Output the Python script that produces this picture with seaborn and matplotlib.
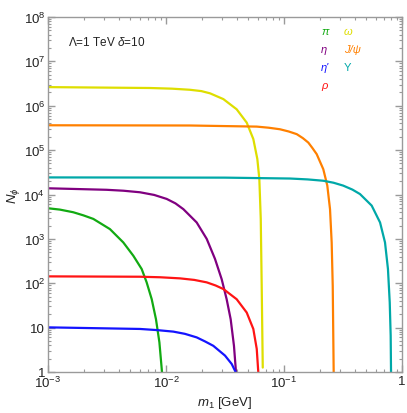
import numpy as np
import pandas as pd
import matplotlib
matplotlib.use("Agg")
import matplotlib.pyplot as plt
import seaborn as sns
from matplotlib.ticker import LogLocator, FixedLocator, NullFormatter

# ---- data (log10 m1 [GeV], log10 N_phi) ----
pi_logm = [-3.0, -2.9, -2.786, -2.7, -2.616, -2.475, -2.362, -2.277, -2.206, -2.164, -2.121, -2.085, -2.056, -2.034]
pi_logN = [3.69, 3.66, 3.60, 3.53, 3.45, 3.22, 2.92, 2.62, 2.32, 2.02, 1.64, 1.19, 0.67, 0.0]

eta_logm = [-3.0, -2.503, -2.36, -2.22, -2.1, -1.994, -1.92, -1.853, -1.74, -1.655, -1.585, -1.528, -1.486, -1.452, -1.424, -1.407]
eta_logN = [4.14, 4.106, 4.085, 4.05, 3.99, 3.90, 3.80, 3.67, 3.37, 3.0, 2.55, 2.09, 1.64, 1.19, 0.59, 0.0]

etap_logm = [-3.0, -2.22, -2.08, -1.938, -1.84, -1.74, -1.67, -1.599, -1.5, -1.443, -1.41]
etap_logN = [1.006, 0.97, 0.945, 0.91, 0.86, 0.78, 0.69, 0.59, 0.37, 0.18, 0.0]

rho_logm = [-3.0, -2.22, -2.05, -1.881, -1.76, -1.655, -1.58, -1.514, -1.401, -1.316, -1.26, -1.231, -1.218]
rho_logN = [2.155, 2.147, 2.135, 2.11, 2.075, 2.02, 1.95, 1.87, 1.64, 1.34, 0.97, 0.52, 0.0]

omega_logm = [-3.0, -2.136, -1.95, -1.797, -1.70, -1.627, -1.514, -1.401, -1.316, -1.26, -1.226, -1.209, -1.197, -1.189, -1.18]
omega_logN = [6.42, 6.40, 6.385, 6.36, 6.33, 6.28, 6.15, 5.92, 5.62, 5.25, 4.80, 4.35, 3.45, 1.94, 0.1]

jpsi_logm = [-3.0, -1.797, -1.231, -1.13, -1.034, -0.96, -0.892, -0.84, -0.794, -0.76, -0.723, -0.667, -0.633, -0.61, -0.596, -0.587, -0.579]
jpsi_logN = [5.56, 5.555, 5.53, 5.505, 5.47, 5.42, 5.36, 5.27, 5.17, 5.05, 4.91, 4.57, 4.20, 3.67, 2.92, 1.94, 0.0]

ups_logm = [-3.0, -1.5, -0.949, -0.8, -0.667, -0.58, -0.498, -0.42, -0.356, -0.257, -0.186, -0.144, -0.119, -0.104, -0.096, -0.093]
ups_logN = [4.385, 4.38, 4.36, 4.34, 4.31, 4.265, 4.20, 4.11, 4.01, 3.75, 3.37, 2.92, 2.32, 1.57, 0.82, 0.0]

labels = ["π", "η", "η'", "ρ", "ω", "J/ψ", "Υ"]
colors = ["#12aa12", "#800080", "#1414ff", "#ff1414", "#dede00", "#ff8000", "#00a8a8"]

series = [(pi_logm, pi_logN), (eta_logm, eta_logN), (etap_logm, etap_logN),
          (rho_logm, rho_logN), (omega_logm, omega_logN), (jpsi_logm, jpsi_logN),
          (ups_logm, ups_logN)]

rows = []
for lab, (lm, ln) in zip(labels, series):
    for a, b in zip(lm, ln):
        rows.append({"m1": 10 ** a, "N": 10 ** b, "particle": lab})
df = pd.DataFrame(rows)

sns.set_style("ticks")
plt.rcParams["font.family"] = ["Liberation Sans", "DejaVu Sans"]
plt.rcParams["mathtext.fontset"] = "custom"
plt.rcParams["mathtext.rm"] = "Liberation Sans"
plt.rcParams["mathtext.it"] = "Liberation Sans:italic"
plt.rcParams["mathtext.bf"] = "Liberation Sans:bold"

fig = plt.figure(figsize=(4.07, 4.14), dpi=100)
ax = fig.add_axes([48 / 407, 41 / 414, 354 / 407, 355 / 414])

sns.lineplot(data=df, x="m1", y="N", hue="particle", hue_order=labels,
             palette=dict(zip(labels, colors)), sort=False, estimator=None,
             linewidth=1.6, legend=False, ax=ax)

ax.set_xscale("log")
ax.set_yscale("log")
ax.set_xlim(1e-3, 1)
ax.set_ylim(1, 1e8)

frame_col = "#9a9a9a"
txt_col = "#222222"
for s in ax.spines.values():
    s.set_color(frame_col)
    s.set_linewidth(1.0)

ax.xaxis.set_major_locator(FixedLocator([1e-3, 1e-2, 1e-1, 1]))
ax.set_xticklabels([r"$10^{-3}$", r"$10^{-2}$", r"$10^{-1}$", "1"])
ax.yaxis.set_major_locator(FixedLocator([10.0 ** k for k in range(9)]))
ax.set_yticklabels(["1", "10"] + [r"$10^{%d}$" % k for k in range(2, 9)])
ax.xaxis.set_minor_locator(LogLocator(base=10, subs=np.arange(2, 10), numticks=20))
ax.yaxis.set_minor_locator(LogLocator(base=10, subs=np.arange(2, 10), numticks=20))
ax.xaxis.set_minor_formatter(NullFormatter())
ax.yaxis.set_minor_formatter(NullFormatter())
ax.tick_params(which="both", direction="in", top=True, right=True, color=frame_col,
               labelsize=9.5, labelcolor=txt_col)
ax.tick_params(which="major", length=5, width=1.0, pad=2)
ax.tick_params(which="minor", length=2.5, width=0.8)

ax.set_xlabel(r"$m_1$ [GeV]", fontsize=9.5, color=txt_col, labelpad=3)
ax.set_ylabel(r"$N_\phi$", fontsize=9.5, color=txt_col, labelpad=1)

ax.text(0.057, 0.93, r"$\Lambda$=1 TeV $\delta$=10", transform=ax.transAxes,
        fontsize=8.5, color=txt_col, va="center", ha="left")

leg_pos = [(321, 32, 0), (321, 50, 1), (321, 68, 2), (321, 86, 3),
           (344, 32, 4), (344, 50, 5), (344, 68, 6)]
for px, py, i in leg_pos:
    fig.text(px / 407, 1 - py / 414, labels[i], color=colors[i], fontsize=8,
             ha="left", va="center",
             style="normal" if labels[i] == "Υ" else "italic")

fig.savefig("out.png", dpi=100)
